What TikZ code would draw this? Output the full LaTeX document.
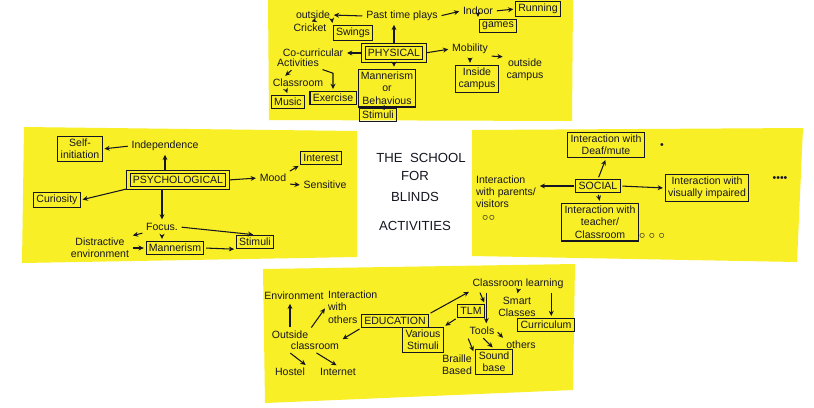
\documentclass[tikz,border=0pt]{standalone}
\usepackage{xcolor}
\usepackage{fontspec}
\setmainfont{Liberation Sans}
\usepackage{tikz}
\usetikzlibrary{arrows.meta}
\definecolor{notey}{RGB}{249,239,38}
\definecolor{ink}{RGB}{22,22,34}
\newcommand{\hw}{\fontsize{6}{7}\selectfont}
\tikzset{
  lbl/.style={font=\hw, text=ink, inner sep=1pt, align=center},
  box/.style={lbl, draw=ink, line width=.6pt, inner sep=1.6pt},
  dbox/.style={box, double=notey, double distance=1.2pt, inner sep=2.5pt},
  ar/.style={draw=ink, line width=.6pt, -{Stealth[length=3pt,width=2.8pt]}, shorten >=1pt, shorten <=1pt},
  title/.style={font=\fontsize{7.5}{8}\selectfont, text=ink}
}

\begin{document}
\begin{tikzpicture}[x=.02cm, y=-.02cm]
	\useasboundingbox[fill=white] (0, 0) rectangle (814, 407);
	% sticky notes
	\fill[notey] (268, 0) -- (573, 0) -- (572, 121) -- (269, 120) -- cycle;
	\fill[notey] (24, 127) -- (357, 131) -- (357, 257) -- (22, 263) -- cycle;
	\fill[notey] (472, 130) -- (803, 128) -- (797, 262) -- (472, 256) -- cycle;
	\fill[notey] (263, 269) -- (575, 264) -- (573, 390) -- (265, 403) -- cycle;

	% centre card
	\node[title] (t1) at (421, 158) {THE\ \ SCHOOL};
	\node[title] (t2) at (415, 176) {FOR};
	\node[title] (t3) at (415, 197) {BLINDS};
	\node[title] (t4) at (415, 226) {ACTIVITIES};

	% physical
	\node[dbox] (physical) at (394, 53) {PHYSICAL};
	\node[lbl] (pastime) at (402, 16) {Past time plays};
	\node[lbl] (outside) at (313, 15) {outside};
	\node[lbl] (cricket) at (310, 28) {Cricket};
	\node[box] (swings) at (353, 33) {Swings};
	\node[lbl] (indoor) at (478, 11) {Indoor};
	\node[box] (running) at (538, 9) {Running};
	\node[box] (games) at (498, 26) {games};
	\node[lbl] (cocurr) at (313, 53) {Co-curricular};
	\node[lbl] (activ) at (298, 63) {Activities};
	\node[lbl] (classroom) at (298, 83) {Classroom};
	\node[box] (music) at (288, 102) {Music};
	\node[box] (exercise) at (333, 98) {Exercise};
	\node[lbl] (mobility) at (470, 49) {Mobility};
	\node[lbl] (outcampus) at (525, 70) {outside\\campus};
	\node[box] (incampus) at (477, 79) {Inside\\campus};
	\node[box] (mannertop) at (387, 88) {Mannerism\\or\\Behavious};
	\node[box] (stimtop) at (378, 115) {Stimuli};
	\draw[ar] (physical.north) -- (physical.north |- pastime.south);
	\draw[ar] (pastime.west) -- (outside.east);
	\draw[ar] (pastime.east) -- (indoor.west);
	\draw[ar] (indoor.east) -- (running.west);
	\draw[ar] (indoor.south) -- (indoor.south |- games.north);
	\draw[ar] (outside.south) -- (cricket.north);
	\draw[ar] (outside.south east) -- (swings.north west);
	\draw[ar] (physical.west) -- (cocurr.east);
	\draw[ar] ([xshift=-3pt]activ.south) -- ([xshift=-8pt]classroom.north);
	\draw[ar] (activ.south east) -- ([yshift=10pt]exercise.north) -- (exercise.north);
	\draw[ar] ([xshift=-7pt]classroom.south) -- (music.north);
	\draw[ar] (physical.east) -- (mobility.west);
	\draw[ar] (mobility.south east) -- (outcampus.north west);
	\draw[ar] (mobility.south) -- (mobility.south |- incampus.north);
	\draw[ar] (physical.south) -- (physical.south |- mannertop.north);
	\draw[ar] (mannertop.south) -- (stimtop.north);

	% psychological
	\node[dbox] (psych) at (178, 180) {PSYCHOLOGICAL};
	\node[box] (selfinit) at (80, 149) {Self-\\initiation};
	\node[lbl] (indep) at (165, 146) {Independence};
	\node[lbl] (mood) at (273, 178) {Mood};
	\node[box] (interest) at (321, 158) {Interest};
	\node[lbl] (sensitive) at (325, 185) {Sensitive};
	\node[box] (curiosity) at (57, 200) {Curiosity};
	\node[lbl] (focus) at (162, 227) {Focus.};
	\node[lbl] (distract) at (100, 248) {Distractive\\environment};
	\node[box] (mannerleft) at (175, 248) {Mannerism};
	\node[box] (stimleft) at (255, 242) {Stimuli};
	\draw[ar] (indep.west) -- (selfinit.east);
	\draw[ar] (indep.south |- psych.north) -- (indep.south);
	\draw[ar] (psych.east) -- (mood.west);
	\draw[ar] (mood.north east) -- (interest.south west);
	\draw[ar] (mood.south east) -- (sensitive.west);
	\draw[ar] (psych.south west) -- (curiosity.east);
	\draw[ar] (focus.north |- psych.south) -- (focus.north);
	\draw[ar] (focus.east) -- (stimleft.north);
	\draw[ar] (focus.south west) -- (distract.north east);
	\draw[ar] (focus.south) -- (focus.south |- mannerleft.north);
	\draw[ar] (distract.east) -- (mannerleft.west);
	\draw[ar] (mannerleft.east) -- (stimleft.south west);

	% social
	\node[box] (social) at (598, 186) {SOCIAL};
	\node[box] (deaf) at (606, 145) {Interaction with\\Deaf/mute};
	\node[lbl] (dot1) at (662, 146) {\textbullet};
	\node[lbl, anchor=west, align=left] (parents) at (474, 198) {Interaction\\with parents/\\visitors\\\ \ $\circ\circ$};
	\node[box] (visual) at (707, 188) {Interaction with\\visually impaired};
	\node[lbl] (dots4) at (780, 179) {\textbullet\textbullet\textbullet\textbullet};
	\node[box] (teacher) at (600, 222) {Interaction with\\teacher/\\Classroom};
	\node[lbl] (dots3) at (652, 236) {$\circ\circ\circ$};
	\draw[ar] (social.north) -- (deaf.south);
	\draw[ar] (social.west) -- (social.west -| parents.east);
	\draw[ar] (social.east) -- (visual.west);
	\draw[ar] (social.south) -- (teacher.north);

	% education
	\node[box] (education) at (395, 321) {EDUCATION};
	\node[lbl] (env) at (294, 296) {Environment};
	\node[lbl, anchor=west, align=left] (interothers) at (326, 307) {Interaction\\with\\others};
	\node[lbl] (outside2) at (290, 335) {Outside};
	\node[lbl] (classrm) at (315, 346) {classroom};
	\node[lbl] (hostel) at (290, 372) {Hostel};
	\node[lbl] (internet) at (338, 372) {Internet};
	\node[lbl] (clearn) at (518, 284) {Classroom learning};
	\node[box] (tlm) at (471, 311) {TLM};
	\node[lbl] (smart) at (517, 307) {Smart\\Classes};
	\node[box] (curric) at (546, 325) {Curriculum};
	\node[box] (various) at (423, 340) {Various\\Stimuli};
	\node[lbl] (tools) at (482, 331) {Tools};
	\node[lbl] (others) at (521, 345) {others};
	\node[lbl] (braille) at (457, 365) {Braille\\Based};
	\node[box] (sound) at (494, 362) {Sound\\base};
	\draw[ar] (outside2.north) -- (outside2.north |- env.south);
	\draw[ar] (outside2.north east) -- (interothers.west);
	\draw[ar] (education.south west) -- (classrm.north east);
	\draw[ar] (classrm.south west) -- (hostel.north east);
	\draw[ar] (classrm.south) -- (internet.north);
	\draw[ar] (education.north east) -- (clearn.south west);
	\draw[ar] ([xshift=5pt]clearn.south west) -- (tlm.north east);
	\draw[ar] ([xshift=9pt]clearn.south west) -- ([xshift=9pt]clearn.south west |- tools.north);
	\draw[ar] (clearn.south) -- (smart.north);
	\draw[ar] ([xshift=3pt]curric.north |- clearn.south) -- ([xshift=3pt]curric.north);
	\draw[ar] (tlm.south west) -- (various.north east);
	\draw[ar] (tools.east) -- (others.north west);
	\draw[ar] (tools.south west) -- (braille.north east);
	\draw[ar] (tools.south) -- (sound.north);
\end{tikzpicture}
\end{document}
